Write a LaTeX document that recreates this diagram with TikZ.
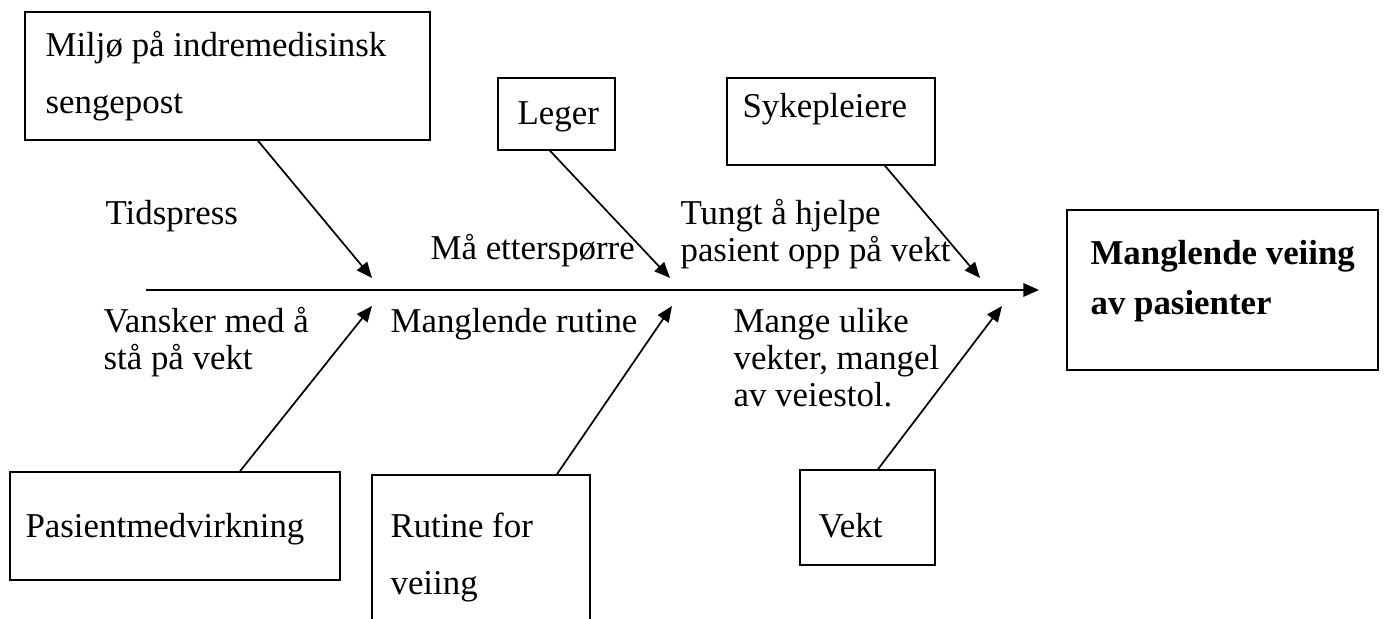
\documentclass[tikz,border=0pt]{standalone}
\usepackage{fontspec}
\setmainfont{Liberation Serif}
\usetikzlibrary{arrows.meta,fit}
\newcommand{\causebox}[3]% name, corner, opposite corner
{\node[box, fit={(#2) (#3)}] (#1) {};
}

\begin{document}
\begin{tikzpicture}[x=0.35pt, y=-0.35pt,
	box/.style={draw, line width=0.55pt, inner sep=0pt},
	txt/.style={anchor=base west, inner sep=0pt, align=left, font=\fontsize{12.2}{12.95}\selectfont},
	boxtxt/.style={txt, font=\fontsize{12.2}{20}\selectfont},
	arr/.style={line width=0.6pt, -{Triangle[length=5.5pt, width=4.6pt]}},
	spine/.style={line width=0.9pt, -{Triangle[length=5.5pt, width=4.6pt]}}]
	\useasboundingbox (0,0) rectangle (1386,619);
	% effect (base = last line)
	\causebox{effect}{1067,210}{1378,370}
	\node[boxtxt, font=\fontsize{12.2}{17.5}\selectfont\bfseries] (effecttxt) at (1090,315) {Manglende veiing\\av pasienter};
	\coordinate (spinestart) at (146,290);
	\draw[spine, shorten >=9.5pt] (spinestart) -- (effect);
	% causes above
	\causebox{miljo}{25,12}{430,140}
	\node[boxtxt] (miljotxt) at (45,114) {Milj\o{} p\aa{} indremedisinsk\\sengepost};
	\causebox{leger}{498,78}{615,150}
	\node[boxtxt] (legertxt) at (517,125) {Leger};
	\causebox{syke}{727,78}{935,165}
	\node[boxtxt] (syketxt) at (742,118) {Sykepleiere};
	% causes below
	\causebox{pasient}{10,472}{340,580}
	\node[boxtxt] (pasienttxt) at (25,538) {Pasientmedvirkning};
	\causebox{rutine}{372,475}{590,640}
	\node[boxtxt] (rutinetxt) at (390,595) {Rutine for\\veiing};
	\causebox{vekt}{800,470}{935,565}
	\node[boxtxt] (vekttxt) at (818,538) {Vekt};
	% arrow tips on the spine
	\coordinate (t1) at (372,278);
	\coordinate (t2) at (670,278);
	\coordinate (t3) at (980,278);
	\coordinate (b1) at (372,306);
	\coordinate (b2) at (672,306);
	\coordinate (b3) at (1002,306);
	\draw[arr] (miljo.south -| 258,0) -- (t1);
	\draw[arr] (leger.south -| 550,0) -- (t2);
	\draw[arr] (syke.south -| 885,0) -- (t3);
	\draw[arr] (pasient.north -| 240,0) -- (b1);
	\draw[arr] (rutine.north -| 557,0) -- (b2);
	\draw[arr] (vekt.north -| 878,0) -- (b3);
	% sub causes (base = last line)
	\node[txt] (tidspress) at (105,225) {Tidspress};
	\node[txt] (etterspor) at (430,260) {M\aa{} ettersp\o{}rre};
	\node[txt] (tungt) at (680,262) {Tungt \aa{} hjelpe\\pasient opp p\aa{} vekt};
	\node[txt] (vansker) at (103,370) {Vansker med \aa{}\\st\aa{} p\aa{} vekt};
	\node[txt] (manglende) at (390,333) {Manglende rutine};
	\node[txt] (mange) at (733,407) {Mange ulike\\vekter, mangel\\av veiestol.};
\end{tikzpicture}
\end{document}
